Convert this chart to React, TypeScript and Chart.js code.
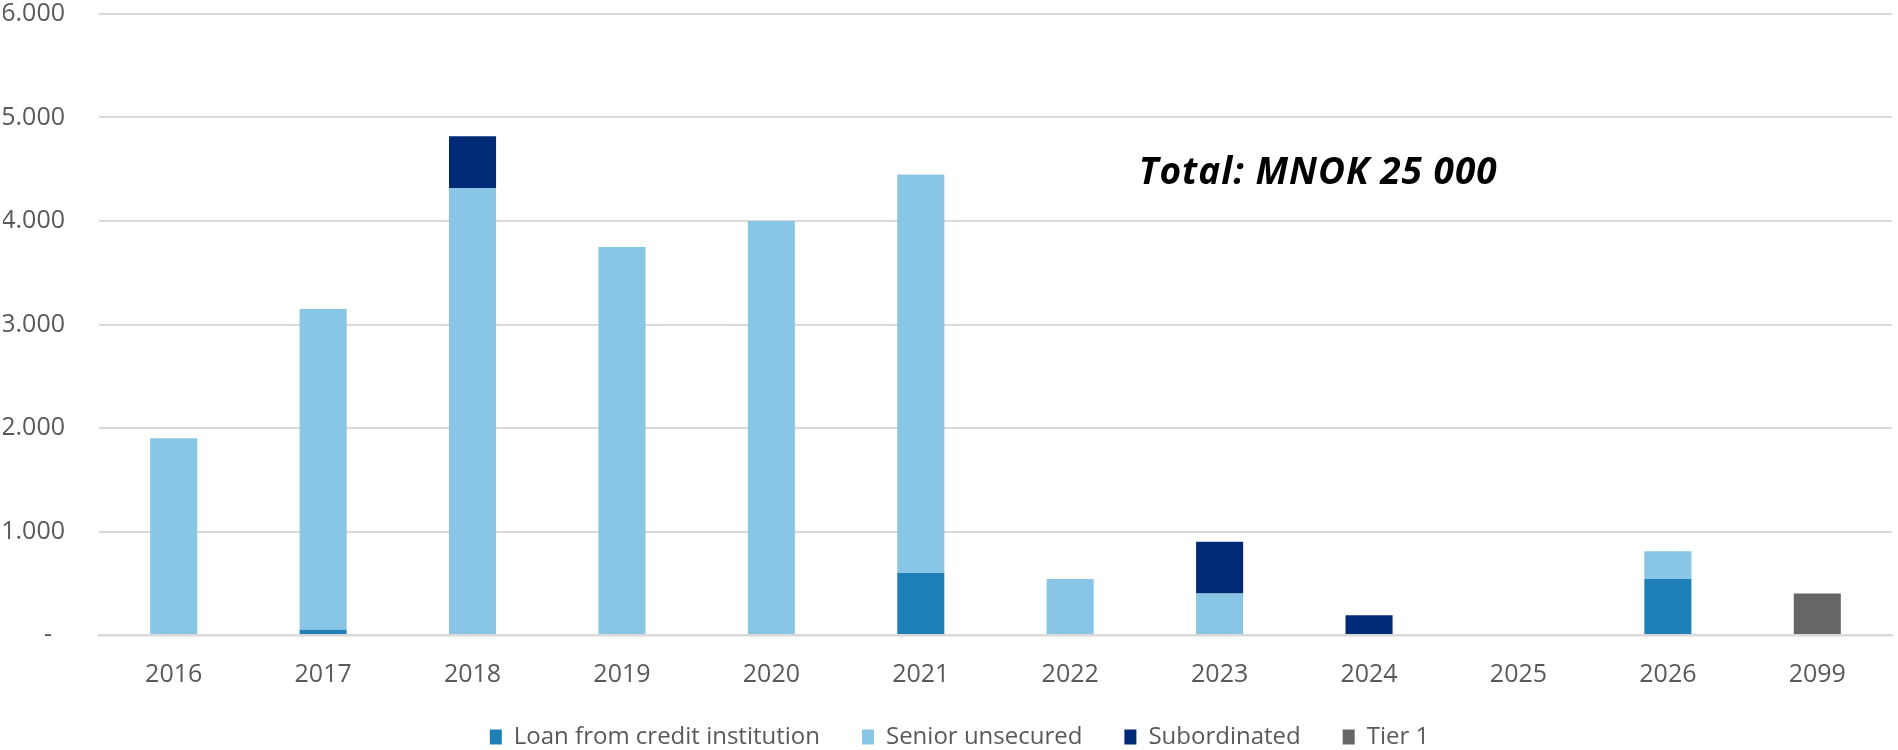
import React, { useEffect, useRef } from "react";
import { Chart, registerables } from "chart.js";

Chart.register(...registerables);

const categories = ["2016", "2017", "2018", "2019", "2020", "2021", "2022", "2023", "2024", "2025", "2026", "2099"];
const loanFromCreditInstitution = [0, 50, 0, 0, 0, 600, 0, 0, 0, 0, 540, 0];
const seniorUnsecured = [1900, 3100, 4320, 3750, 4000, 3850, 540, 400, 0, 0, 270, 0];
const subordinated = [0, 0, 500, 0, 0, 0, 0, 500, 190, 0, 0, 0];
const tier1 = [0, 0, 0, 0, 0, 0, 0, 0, 0, 0, 0, 400];
const yTicks = [0, 1000, 2000, 3000, 4000, 5000, 6000];
const totalLabel = "Total: MNOK 25 000";

const fmt = (v: number) => (v === 0 ? "-  " : String(v).replace(/\B(?=(\d{3})+(?!\d))/g, "."));

const totalPlugin = {
  id: "totalText",
  afterLayout(chart: any) {
    const lg = chart.legend;
    if (lg) lg.left += 24;
  },
  afterDraw(chart: any) {
    const { ctx, chartArea } = chart;
    ctx.save();
    ctx.font = "italic bold 37px 'Open Sans'";
    try { (ctx as any).letterSpacing = "1px"; } catch (e) {}
    ctx.fillStyle = "#000000";
    ctx.textAlign = "center";
    ctx.textBaseline = "middle";
    const x = chartArea.left + (chartArea.right - chartArea.left) * 0.68;
    const y = chartArea.top + (chartArea.bottom - chartArea.top) * 0.256;
    ctx.fillText(totalLabel, x, y);
    ctx.restore();
  },
};

export default function App() {
  const ref = useRef<HTMLCanvasElement>(null);
  useEffect(() => {
    if (!ref.current) return;
    const ds = (label: string, data: number[], color: string) => ({
      label,
      data,
      backgroundColor: color,
      borderWidth: 0,
      barPercentage: 0.315,
      categoryPercentage: 1,
    });
    const chart = new Chart(ref.current, {
      type: "bar",
      data: {
        labels: categories,
        datasets: [
          ds("Loan from credit institution", loanFromCreditInstitution, "#1f80b9"),
          ds("Senior unsecured", seniorUnsecured, "#89c6e5"),
          ds("Subordinated", subordinated, "#002a75"),
          ds("Tier 1", tier1, "#666666"),
        ],
      },
      options: {
        animation: false,
        responsive: false,
        maintainAspectRatio: false,
        layout: { padding: { left: 3, right: 6, top: 0, bottom: -9 } },
        plugins: {
          tooltip: { enabled: false },
          legend: {
            position: "bottom",
            labels: {
              boxWidth: 12,
              boxHeight: 15,
              padding: 10,
              color: "#595959",
              font: { family: "'Open Sans'", size: 24 },
              generateLabels: (chart: any) => {
                const items = Chart.defaults.plugins.legend.labels.generateLabels(chart);
                return items.map((it: any, i: number) => ({
                  ...it,
                  text: i < items.length - 1 ? it.text + "\u2003\u2009\u2009" : it.text,
                  lineWidth: 0,
                }));
              },
            },
          },
        },
        scales: {
          x: {
            stacked: true,
            grid: { display: false, drawTicks: false },
            border: { display: true, color: "#d9d9d9", width: 2.5 },
            ticks: {
              color: "#595959",
              font: { family: "'Open Sans'", size: 25 },
              padding: 25,
              maxRotation: 0,
            },
          },
          y: {
            stacked: true,
            min: 0,
            max: 6000,
            afterBuildTicks: (axis: any) => {
              axis.ticks = yTicks.map((v) => ({ value: v }));
            },
            afterFit: (axis: any) => {
              axis.width = 96;
              axis.paddingTop = 14;
            },
            grid: { color: "#d9d9d9", lineWidth: 2, drawTicks: false },
            border: { display: false },
            ticks: {
              color: "#595959",
              font: { family: "'Open Sans'", size: 25 },
              padding: 34,
              callback: (v: any) => fmt(Number(v)),
            },
          },
        },
      },
      plugins: [totalPlugin],
    });
    return () => chart.destroy();
  }, []);
  return (
    <div style={{ position: "absolute", left: 0, top: 0, width: 1898, height: 750, background: "#fff" }}>
      <canvas ref={ref} width={1898} height={750} style={{ width: 1898, height: 750, display: "block" }} />
    </div>
  );
}
